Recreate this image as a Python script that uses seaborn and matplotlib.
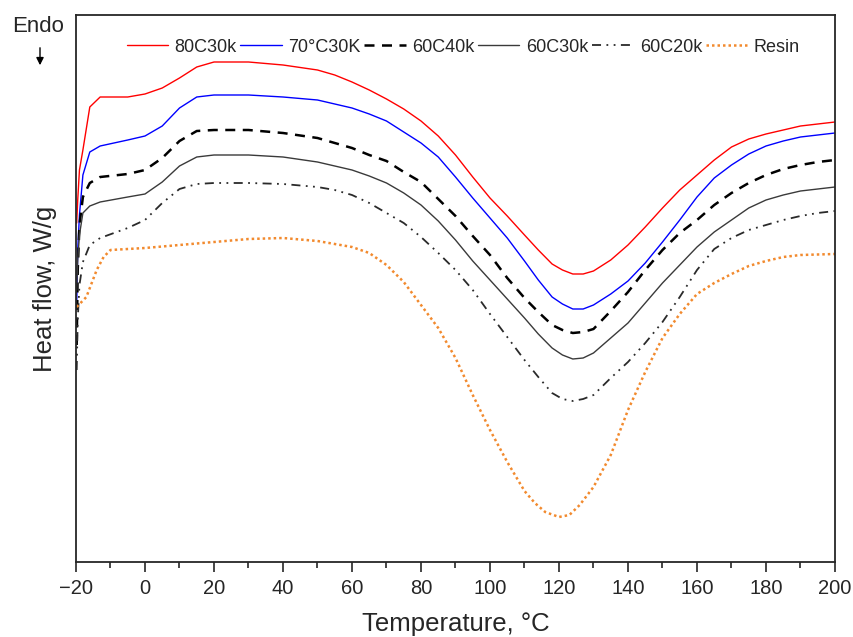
import numpy as np
import pandas as pd
import matplotlib
matplotlib.use('Agg')
import matplotlib.pyplot as plt
import seaborn as sns

# temperature grid (°C) shared by the five DSC samples
temp = [-19.8, -19.5, -19, -18, -16, -13, -5, 0, 5, 10, 15, 20, 30, 40, 50, 55, 60, 65, 70, 75,
        80, 85, 90, 95, 100, 105, 110, 114, 118, 121, 124, 127, 130, 135, 140, 145, 150, 155,
        160, 165, 170, 175, 180, 185, 190, 195, 200]

# heat flow (arbitrary offset units)
hf_80c30k = [3.39, 3.62, 3.92, 4.12, 4.55, 4.65, 4.65, 4.68, 4.74, 4.84, 4.95, 5.00, 5.00, 4.97,
             4.92, 4.87, 4.80, 4.72, 4.63, 4.53, 4.41, 4.26, 4.07, 3.85, 3.64, 3.46, 3.27, 3.12,
             2.98, 2.92, 2.88, 2.88, 2.91, 3.02, 3.17, 3.35, 3.54, 3.72, 3.87, 4.02, 4.15, 4.23,
             4.28, 4.32, 4.36, 4.38, 4.40]
hf_70c30k = [2.57, 3.12, 3.47, 3.87, 4.10, 4.16, 4.22, 4.26, 4.36, 4.54, 4.65, 4.67, 4.67, 4.65,
             4.62, 4.58, 4.54, 4.48, 4.41, 4.30, 4.19, 4.05, 3.85, 3.64, 3.44, 3.24, 3.01, 2.82,
             2.65, 2.58, 2.53, 2.53, 2.57, 2.68, 2.81, 2.99, 3.20, 3.42, 3.65, 3.84, 3.97, 4.08,
             4.16, 4.21, 4.25, 4.27, 4.29]
hf_60c40k = [2.17, 2.92, 3.37, 3.65, 3.79, 3.85, 3.88, 3.92, 4.04, 4.21, 4.31, 4.32, 4.32, 4.29,
             4.24, 4.19, 4.14, 4.07, 4.01, 3.90, 3.80, 3.63, 3.46, 3.26, 3.07, 2.84, 2.64, 2.50,
             2.37, 2.32, 2.29, 2.30, 2.33, 2.51, 2.70, 2.92, 3.12, 3.29, 3.42, 3.57, 3.69, 3.79,
             3.87, 3.93, 3.97, 4.00, 4.02]
hf_60c30k = [2.72, 3.02, 3.27, 3.49, 3.56, 3.60, 3.65, 3.68, 3.80, 3.96, 4.05, 4.07, 4.07, 4.05,
             4.00, 3.96, 3.92, 3.86, 3.79, 3.69, 3.57, 3.41, 3.22, 3.01, 2.82, 2.63, 2.44, 2.28,
             2.14, 2.07, 2.03, 2.04, 2.09, 2.24, 2.39, 2.59, 2.79, 2.97, 3.15, 3.30, 3.42, 3.54,
             3.62, 3.67, 3.71, 3.73, 3.75]
hf_60c20k = [1.92, 2.42, 2.77, 3.00, 3.17, 3.24, 3.34, 3.42, 3.59, 3.73, 3.78, 3.79, 3.79, 3.78,
             3.75, 3.72, 3.67, 3.59, 3.49, 3.39, 3.25, 3.09, 2.92, 2.72, 2.48, 2.25, 2.02, 1.85,
             1.69, 1.63, 1.61, 1.63, 1.67, 1.84, 2.00, 2.19, 2.40, 2.65, 2.92, 3.13, 3.24, 3.32,
             3.37, 3.42, 3.46, 3.49, 3.51]

# neat resin
temp_resin = [-19.8, -17, -14, -12, -10, 0, 10, 20, 30, 40, 50, 60, 65, 70, 75, 80, 85, 90, 95,
              100, 105, 110, 113, 116, 120, 123, 126, 130, 135, 140, 145, 150, 155, 160, 165,
              170, 175, 180, 185, 190, 200]
hf_resin = [2.55, 2.65, 2.92, 3.05, 3.12, 3.14, 3.17, 3.20, 3.23, 3.24, 3.21, 3.15, 3.09, 2.97,
            2.80, 2.57, 2.34, 2.04, 1.67, 1.32, 1.00, 0.71, 0.59, 0.50, 0.45, 0.47, 0.57, 0.75,
            1.07, 1.52, 1.90, 2.24, 2.48, 2.68, 2.79, 2.88, 2.96, 3.01, 3.05, 3.07, 3.08]

labels = ['80C30k', '70°C30K', '60C40k', '60C30k', '60C20k', 'Resin']

sns.set_style('ticks')
plt.rcParams['font.family'] = ['Liberation Sans', 'DejaVu Sans']

fig = plt.figure(figsize=(8.54, 6.37), dpi=100)
ax = fig.add_axes([76/854, 1-562/637, (835-76)/854, (562-15)/637])

series = [
    (temp, hf_80c30k, '#ff0000', '-', 1.0),
    (temp, hf_70c30k, '#0000ff', '-', 1.0),
    (temp, hf_60c40k, '#000000', (0, (4, 3)), 1.8),
    (temp, hf_60c30k, '#3a3a3a', '-', 1.0),
    (temp, hf_60c20k, '#2a2a2a', (0, (5, 3, 1, 3, 1, 3)), 1.3),
    (temp_resin, hf_resin, '#f28a2e', (0, (1, 1.2)), 1.8),
]
for (x, y, c, ls, lw), lab in zip(series, labels):
    df = pd.DataFrame({'T': x, 'hf': y})
    sns.lineplot(data=df, x='T', y='hf', ax=ax, color=c, linestyle=ls, linewidth=lw,
                 label=lab, sort=False)

ax.set_xlim(-20, 200)
ax.set_ylim(0, 5.47)
ax.set_xticks(np.arange(-20, 201, 20))
ax.set_xticks(np.arange(-20, 201, 10), minor=True)
ax.set_yticks([])
ax.tick_params(axis='x', which='major', length=7, width=1.2, direction='out', pad=5)
ax.tick_params(axis='x', which='minor', length=4, width=1.2, direction='out')
for lbl in ax.get_xticklabels():
    lbl.set_family(['Liberation Sans Narrow', 'Liberation Sans'])
    lbl.set_fontsize(14.5)
for s in ax.spines.values():
    s.set_linewidth(1.3)
    s.set_visible(True)

ax.set_xlabel('Temperature, °C', fontsize=18.5, labelpad=10)
ax.set_ylabel('Heat flow, W/g', fontsize=18.5, labelpad=14)

ax.legend(loc='center', bbox_to_anchor=(0.51, 0.941), ncol=6, frameon=False,
          fontsize=13, handlelength=2.3, handletextpad=0.35, columnspacing=0.2)

fig.text(38/854, 1-27/637, 'Endo', fontsize=16, ha='center', va='center')
fig.patches.append(matplotlib.patches.FancyArrowPatch(
    (40/854, 1-45/637), (40/854, 1-68/637), transform=fig.transFigure,
    arrowstyle='-|>', mutation_scale=11, color='black', lw=1.0))

fig.savefig('out.png', dpi=100)
